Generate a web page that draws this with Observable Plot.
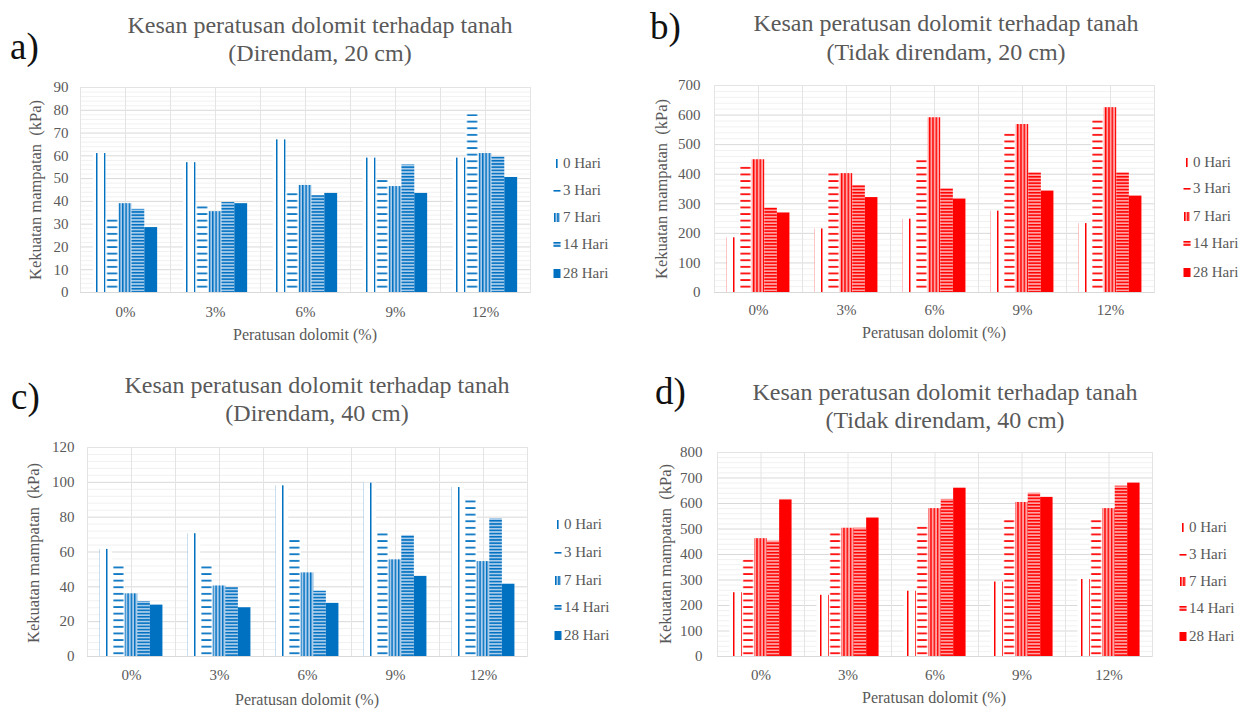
<!DOCTYPE html>
<html>
<head>
<meta charset="utf-8">
<script src="https://cdn.jsdelivr.net/npm/d3@7"></script>
<script src="https://cdn.jsdelivr.net/npm/@observablehq/plot@0.6"></script>
<style>
  html, body { margin: 0; padding: 0; background: #fff; }
  #root { position: relative; width: 1247px; height: 711px; overflow: hidden;
          font-family: "Liberation Serif", "LiberationSerif", Tinos, "Times New Roman", Times, "DejaVu Serif", serif;
          color: #595959; background: #fff; }
  .abs { position: absolute; white-space: pre; }
  .panel svg { max-width: none !important; display: block; }
  .title { font-size: 24px; line-height: 28px; transform: translate(-50%, -50%); }
  .letter { font-size: 37px; line-height: 37px; color: #111; transform: translateY(-50%); }
  .xtitle { font-size: 16px; line-height: 18px; transform: translate(-50%, -50%); }
  .ytitle { font-size: 16.5px; line-height: 18px; transform: translate(-50%, -50%) rotate(-90deg); }
  .leg { font-size: 15px; line-height: 18px; display: flex; align-items: center; transform: translateY(-50%); }
  .leg svg { margin-right: 2px; }
</style>
</head>
<body>
<div id="root"></div>
<script>
// ---------- data ----------
const categories = ["0%", "3%", "6%", "9%", "12%"];
const series = ["0 Hari", "3 Hari", "7 Hari", "14 Hari", "28 Hari"];

// rows: categories; columns: series (0, 3, 7, 14, 28 Hari)
const direndam20 = [
  [61, 32.5, 39, 36.5, 28.5],
  [57, 38, 35.5, 39.5, 39],
  [67, 44, 47, 42.5, 43.5],
  [59, 49.5, 46.5, 56, 43.5],
  [59, 78, 61, 59.5, 50.5]
];
const tidakDirendam20 = [
  [185, 430, 449, 286, 269],
  [215, 407, 402, 362, 321],
  [248, 451, 591, 351, 316],
  [275, 540, 568, 405, 343],
  [233, 585, 625, 405, 326]
];
const direndam40 = [
  [61.5, 52.5, 36, 31.5, 29.5],
  [70.5, 52.5, 40.5, 39.5, 28],
  [98, 67.5, 48, 37.5, 30.5],
  [99.5, 71.5, 55.5, 69.5, 46],
  [97, 90.5, 54.5, 79, 41.5]
];
const tidakDirendam40 = [
  [250, 388, 462, 452, 614],
  [240, 490, 503, 503, 543],
  [256, 516, 580, 616, 660],
  [292, 540, 604, 640, 624],
  [302, 540, 580, 668, 680]
];

const ticks20d = [0, 10, 20, 30, 40, 50, 60, 70, 80, 90];
const ticks20t = [0, 100, 200, 300, 400, 500, 600, 700];
const ticks40d = [0, 20, 40, 60, 80, 100, 120];
const ticks40t = [0, 100, 200, 300, 400, 500, 600, 700, 800];

const titleLine = "Kesan peratusan dolomit terhadap tanah";
const subtitles = ["(Direndam, 20 cm)", "(Tidak direndam, 20 cm)", "(Direndam, 40 cm)", "(Tidak direndam, 40 cm)"];
const letters = ["a)", "b)", "c)", "d)"];
const xTitle = "Peratusan dolomit (%)";
const yTitle = "Kekuatan mampatan  (kPa)";

const BLUE = "#0070C0", BLUE_TINT = "#A9CCEB";
const RED = "#FF0000", RED_TINT = "#FFA3A3";
const FONT = "'Liberation Serif', 'LiberationSerif', Tinos, 'Times New Roman', Times, 'DejaVu Serif', serif";

// ---------- layout (positions / styles only) ----------
const panels = [
  {id: "pa", values: direndam20, ticks: ticks20d, minorStep: 2, color: BLUE, tint: BLUE_TINT,
   left: 0, top: 0, width: 540, height: 345, mL: 80, mR: 10, mT: 87, mB: 53, yPad: 12, xPad: 14,
   letterX: 10, letterY: 46, titleX: 320, t1Y: 25, t2Y: 53,
   xtX: 305, xtY: 335, ytX: 36, ytY: 190, legX: 553, legY: [163, 190, 217, 244, 273]},
  {id: "pb", values: tidakDirendam20, ticks: ticks20t, minorStep: 20, color: RED, tint: RED_TINT,
   left: 620, top: 0, width: 545, height: 345, mL: 93, mR: 10, mT: 85, mB: 53, yPad: 14, xPad: 12,
   letterX: 650, letterY: 26, titleX: 946, t1Y: 23, t2Y: 52,
   xtX: 934, xtY: 333, ytX: 662, ytY: 189, legX: 1183, legY: [162, 188, 216, 243, 272]},
  {id: "pc", values: direndam40, ticks: ticks40d, minorStep: 4, color: BLUE, tint: BLUE_TINT,
   left: 0, top: 360, width: 540, height: 345, mL: 85, mR: 11, mT: 87, mB: 49, yPad: 13, xPad: 13,
   letterX: 11, letterY: 396, titleX: 317, t1Y: 385, t2Y: 413,
   xtX: 307, xtY: 700, ytX: 34, ytY: 553, legX: 554, legY: [524, 552, 580, 607, 635]},
  {id: "pd", values: tidakDirendam40, ticks: ticks40t, minorStep: 20, color: RED, tint: RED_TINT,
   left: 620, top: 360, width: 543, height: 345, mL: 96, mR: 10, mT: 92, mB: 49, yPad: 15, xPad: 13,
   letterX: 655, letterY: 391, titleX: 945, t1Y: 392, t2Y: 420,
   xtX: 934, xtY: 698, ytX: 666, ytY: 554, legX: 1179, legY: [527, 554, 581, 608, 636]}
];

const root = document.getElementById("root");
const NS = "http://www.w3.org/2000/svg";

function addText(cls, text, x, y) {
  const d = document.createElement("div");
  d.className = "abs " + cls;
  d.textContent = text;
  d.style.left = x + "px";
  d.style.top = y + "px";
  root.appendChild(d);
  return d;
}

function swatch(si, color, tint) {
  const s = document.createElementNS(NS, "svg");
  s.setAttribute("width", 8); s.setAttribute("height", 11);
  const shapes = [
    `<rect x="3" y="1" width="1.6" height="9" fill="${color}"/>`,
    `<rect x="0.5" y="5" width="7" height="1.6" fill="${color}"/>`,
    `<rect x="1" y="1" width="6" height="9" fill="${tint}"/><rect x="1" y="1" width="1.5" height="9" fill="${color}"/><rect x="4.2" y="1" width="1.5" height="9" fill="${color}"/>`,
    `<rect x="0.5" y="3" width="7" height="5" fill="${tint}"/><rect x="0.5" y="3" width="7" height="1.5" fill="${color}"/><rect x="0.5" y="6.2" width="7" height="1.5" fill="${color}"/>`,
    `<rect x="0.5" y="1" width="7" height="9" fill="${color}"/>`
  ];
  s.innerHTML = shapes[si];
  return s;
}

panels.forEach((p, pi) => {
  const rows = [];
  categories.forEach((c, ci) => series.forEach((s, si) =>
    rows.push({cat: c, series: s, si, value: p.values[ci][si]})));
  const max = p.ticks[p.ticks.length - 1];
  const minor = d3.range(0, max + 1e-9, p.minorStep).filter(v => !p.ticks.includes(v));
  const fills = series.map((s, si) => si === 4 ? p.color : `url(#${p.id}-p${si})`);

  const plot = Plot.plot({
    width: p.width,
    height: p.height,
    marginLeft: p.mL, marginRight: p.mR, marginTop: p.mT, marginBottom: p.mB,
    style: {fontFamily: FONT, fontSize: "15px",
            color: "#595959", background: "none", overflow: "visible"},
    fx: {domain: categories, padding: 0, label: null, axis: "bottom", tickSize: 0, tickPadding: p.xPad},
    x: {domain: series, axis: null, paddingInner: 0, paddingOuter: 1, round: false},
    y: {domain: [0, max], ticks: p.ticks, tickSize: 0, tickPadding: p.yPad, label: null},
    marks: [
      Plot.ruleY(minor, {stroke: "#f1f1f1", strokeWidth: 1}),
      Plot.ruleY(p.ticks, {stroke: "#d9d9d9", strokeWidth: 1}),
      Plot.ruleX([series[2]], {stroke: "#e4e4e4"}),
      Plot.frame({stroke: "#e4e4e4"}),
      ...series.map((s, si) => Plot.barY(rows.filter(r => r.si === si),
        {fx: "cat", x: "series", y: "value", fill: fills[si]})),
      Plot.ruleY([0], {stroke: "#d9d9d9"})
    ]
  });

  // pattern fills, aligned to the band scale where needed
  const xs = plot.scale("x");
  const bw = xs.bandwidth;
  const x1 = xs.apply(series[1]);
  const c = p.color, t = p.tint;
  const defs = document.createElementNS(NS, "defs");
  defs.innerHTML =
    `<pattern id="${p.id}-p0" patternUnits="userSpaceOnUse" x="0" y="0" width="8" height="4">` +
      `<rect width="8" height="4" fill="#fff"/><rect x="0" y="0" width="1.5" height="4" fill="${c}"/></pattern>` +
    `<pattern id="${p.id}-p1" patternUnits="userSpaceOnUse" x="${x1}" y="0" width="${bw}" height="6.6">` +
      `<rect width="${bw}" height="6.6" fill="#fff"/><rect x="${bw * 0.1}" y="2" width="${bw * 0.8}" height="1.7" fill="${c}"/></pattern>` +
    `<pattern id="${p.id}-p2" patternUnits="userSpaceOnUse" x="0" y="0" width="3.3" height="4">` +
      `<rect width="3.3" height="4" fill="${t}"/><rect x="0" y="0" width="1.4" height="4" fill="${c}"/></pattern>` +
    `<pattern id="${p.id}-p3" patternUnits="userSpaceOnUse" x="0" y="0" width="4" height="3.2">` +
      `<rect width="4" height="3.2" fill="${t}"/><rect x="0" y="0" width="4" height="1.5" fill="${c}"/></pattern>`;
  plot.insertBefore(defs, plot.firstChild);

  const wrap = document.createElement("div");
  wrap.className = "abs panel";
  wrap.style.left = p.left + "px";
  wrap.style.top = p.top + "px";
  wrap.style.width = p.width + "px";
  wrap.style.height = p.height + "px";
  wrap.appendChild(plot);
  root.appendChild(wrap);

  // texts
  addText("letter", letters[pi], p.letterX, p.letterY);
  addText("title", titleLine, p.titleX, p.t1Y);
  addText("title", subtitles[pi], p.titleX, p.t2Y);
  addText("xtitle", xTitle, p.xtX, p.xtY);
  addText("ytitle", yTitle, p.ytX, p.ytY);

  // legend
  series.forEach((s, si) => {
    const d = document.createElement("div");
    d.className = "abs leg";
    d.style.left = p.legX + "px";
    d.style.top = p.legY[si] + "px";
    d.appendChild(swatch(si, p.color, p.tint));
    const sp = document.createElement("span");
    sp.textContent = s;
    d.appendChild(sp);
    root.appendChild(d);
  });
});
</script>
</body>
</html>
